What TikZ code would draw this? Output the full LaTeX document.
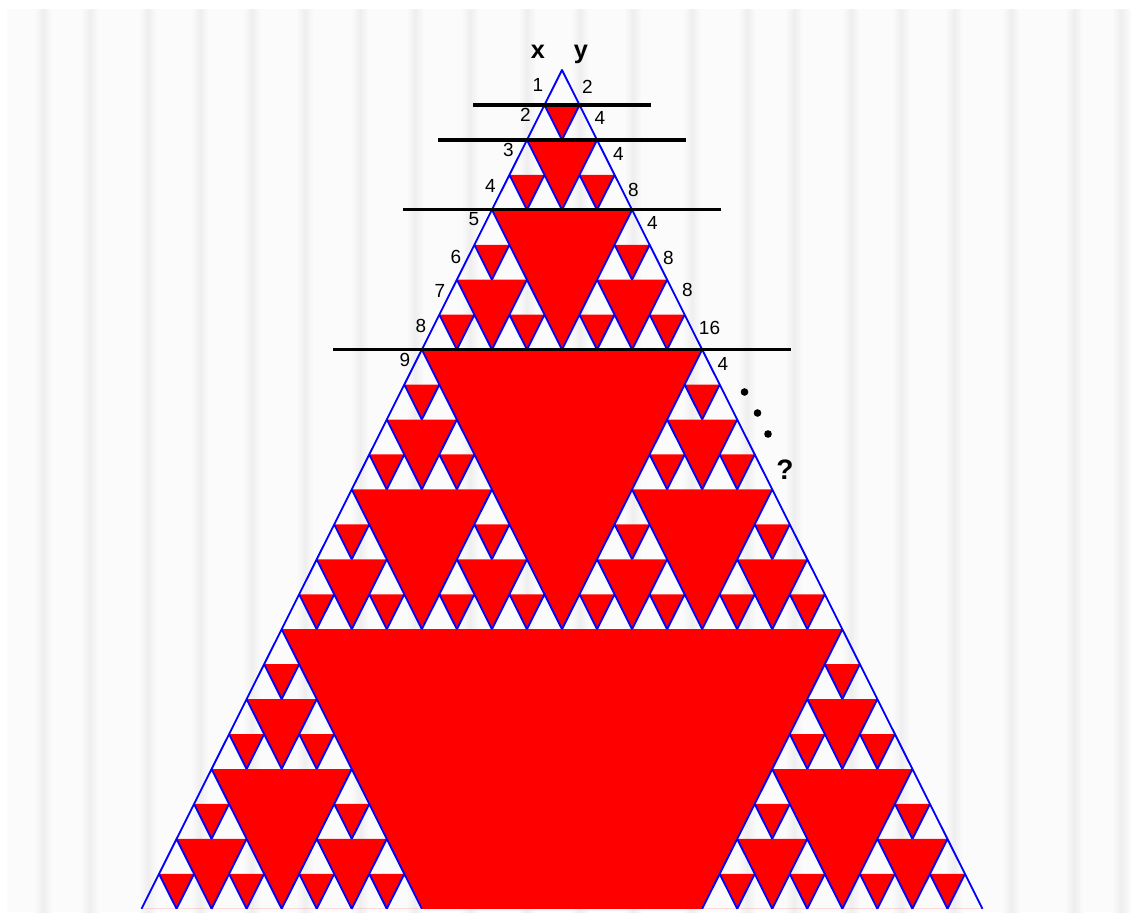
\documentclass[tikz,border=0pt]{standalone}
\usepackage{fontspec}
\setmainfont{Liberation Sans}
\usetikzlibrary{positioning}

\begin{document}
\begin{tikzpicture}[
      x=0.025cm, y=-0.025cm,
      declare function={bt(\i,\m)=mod(floor(\i/\m),2);
                        ok(\i,\j,\m)=1-bt(\j,\m)*(1-bt(\i,\m));},
      num/.style={font=\fontsize{13.5}{15}\selectfont, inner sep=0pt},
      head/.style={font=\fontsize{18}{20}\selectfont\bfseries, inner sep=0pt, anchor=base},
      rule/.style={line width=2.4pt, black},
      edge/.style={blue, line width=1.3pt, line join=round},
      dot/.style={circle, fill=black, inner sep=0pt, minimum size=1.9mm},
      stripe/.style={left color=gray!3, right color=gray!3, middle color=gray!13},
    ]
    \useasboundingbox (0,0) rectangle (1131,916);
    \fill[gray!3] (7,9) rectangle (1131,912);
    \foreach \sx in {43,90,148,200,252,305,360,415,470,527,580,633,692,747,794,851,901,954,1011,1074,1121}
      \shade[stripe] (\sx-9,9) rectangle (\sx+9,912);

    \gdef\holes{}
    \gdef\edges{}
    \foreach \n in {0,...,23}{
      \foreach \k in {0,...,\n}{
        \pgfmathtruncatemacro\odd{ok(\n,\k,1)*ok(\n,\k,2)*ok(\n,\k,4)*ok(\n,\k,8)*ok(\n,\k,16)}
        \ifnum\odd=1
          \pgfmathsetmacro\ax{562+35.04*(\k-\n/2)}
          \pgfmathsetmacro\ty{70+34.95*\n}
          \pgfmathsetmacro\by{\ty+34.95}
          \pgfmathsetmacro\lx{\ax-17.52}
          \pgfmathsetmacro\rx{\ax+17.52}
          \xdef\holes{\holes (\lx,\by) -- (\ax,\ty) -- (\rx,\by) -- cycle}
          \xdef\edges{\edges (\lx,\by) -- (\ax,\ty) -- (\rx,\by)}
        \fi
      }
    }
    \fill[red, even odd rule] (562,70) -- (141.5,908.8) -- (982.5,908.8) -- cycle \holes;
    \draw[edge] \edges;

    \draw[rule] (473,104.95) -- (651,104.95);
    \draw[rule] (438,139.9) -- (686,139.9);
    \draw[rule] (403,209.8) -- (721,209.8);
    \draw[rule] (333,349.6) -- (791,349.6);

    \node[head] (xh) at (538,58) {x};
    \node[head] (yh) at (581,58) {y};

    \node[num] (l1) at (538,85)    {1};
    \node[num] (l2) at (525.5,115) {2};
    \node[num] (l3) at (508.5,150) {3};
    \node[num] (l4) at (490.5,186) {4};
    \node[num] (l5) at (474,219)   {5};
    \node[num] (l6) at (456,257)   {6};
    \node[num] (l7) at (440,291)   {7};
    \node[num] (l8) at (421,326)   {8};
    \node[num] (l9) at (405,360)   {9};

    \node[num] (r1) at (587.5,86.5) {2};
    \node[num] (r2) at (600,118)    {4};
    \node[num] (r3) at (618.5,154)  {4};
    \node[num] (r4) at (633.5,190)  {8};
    \node[num] (r5) at (652.5,222.5) {4};
    \node[num] (r6) at (668.5,258)  {8};
    \node[num] (r7) at (687.5,290)  {8};
    \node[num] (r8) at (709.5,328)  {16};
    \node[num] (r9) at (723,364)    {4};

    \node[dot] (d1) at (744.5,392) {};
    \node[dot] (d2) at (757.5,413) {};
    \node[dot] (d3) at (768,434)   {};
    \node[font=\fontsize{20}{22}\selectfont\bfseries, inner sep=0pt] (q) at (785,469.5) {?};
  \end{tikzpicture}
\end{document}
